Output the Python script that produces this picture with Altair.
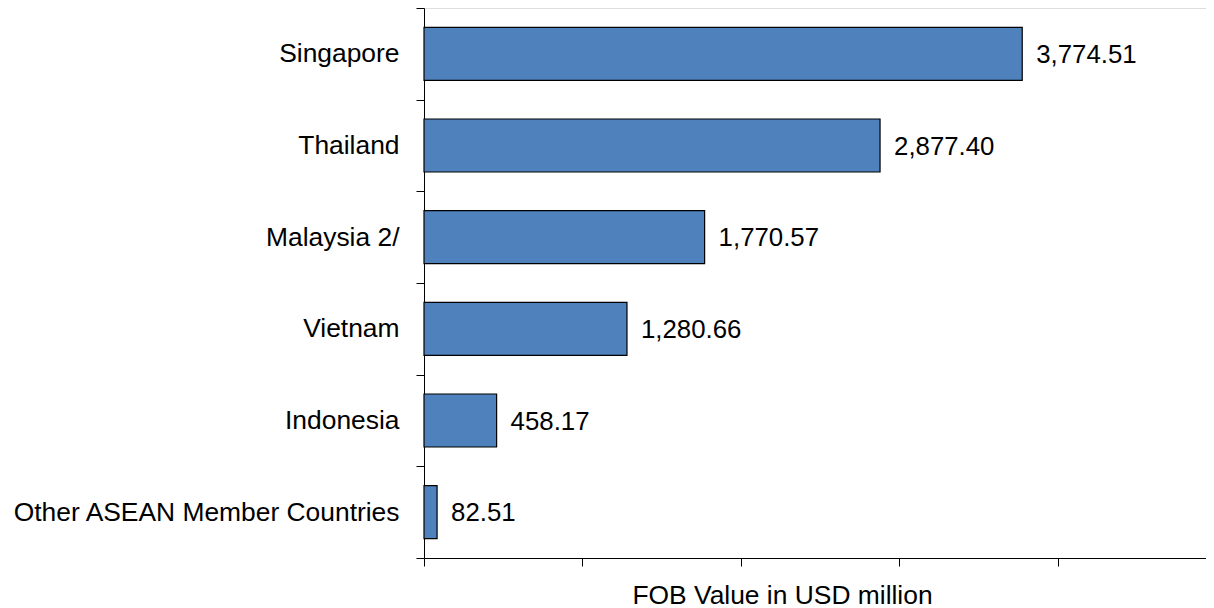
import altair as alt
import pandas as pd

countries = ["Singapore", "Thailand", "Malaysia 2/", "Vietnam", "Indonesia",
             "Other ASEAN Member Countries"]
values = [3774.51, 2877.40, 1770.57, 1280.66, 458.17, 82.51]
labels = ["3,774.51", "2,877.40", "1,770.57", "1,280.66", "458.17", "82.51"]
x_ticks = [0, 1000, 2000, 3000, 4000]

df = pd.DataFrame({"country": countries, "value": values, "label": labels})

FONT = "Liberation Sans"
FS_LAB = 26.4
FS_NUM = 25.8

y_enc = alt.Y(
    "country:N",
    sort=countries,
    scale=alt.Scale(paddingInner=0, paddingOuter=0),
    axis=alt.Axis(
        title=None,
        tickBand="extent",
        tickSize=8,
        tickColor="black",
        domainColor="black",
        labelColor="black",
        labelFont=FONT,
        labelFontSize=FS_LAB,
        labelPadding=17,
        labelLimit=600,
    ),
)

x_enc = alt.X(
    "value:Q",
    scale=alt.Scale(domain=[0, 4934], nice=False),
    axis=alt.Axis(
        title="FOB Value in USD million",
        values=x_ticks,
        labels=False,
        grid=False,
        tickSize=8,
        tickColor="black",
        domainColor="black",
        titleFont=FONT,
        titleFontSize=FS_LAB,
        titleFontWeight="normal",
        titleColor="black",
        titleX=358,
        titleY=45,
        titleAlign="center",
        titleBaseline="alphabetic",
    ),
)

bars = alt.Chart(df).mark_bar(
    height=53, color="#4F81BD", stroke="black", strokeWidth=1.2
).encode(x=x_enc, y=y_enc)

text = alt.Chart(df).mark_text(
    align="left", baseline="middle", dx=14, dy=1, font=FONT, fontSize=FS_NUM, color="black"
).encode(x="value:Q", y=alt.Y("country:N", sort=countries), text="label:N")

chart = (
    alt.layer(bars, text)
    .properties(
        width=782,
        height=550,
        autosize=alt.AutoSizeParams(type="none"),
        padding={"left": 416, "top": 0, "right": 0, "bottom": 50},
    )
    .configure_view(stroke="#BFBFBF", strokeWidth=1)
    .configure(background="white")
)

chart.save("out.html", embed_options={"renderer": "svg", "actions": False})
